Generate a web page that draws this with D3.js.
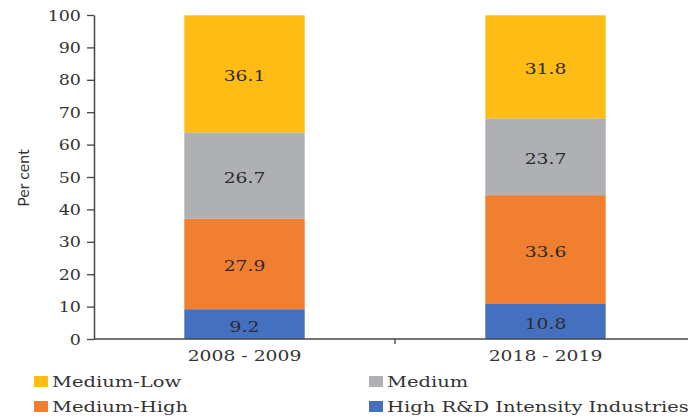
<!DOCTYPE html>
<html>
<head>
<meta charset="utf-8">
<script src="https://cdn.jsdelivr.net/npm/d3@7"></script>
<style>
  html, body { margin: 0; padding: 0; background: #fff; }
  svg { display: block; }
</style>
</head>
<body>
<svg id="chart" width="688" height="419"></svg>
<script>
// Share of manufacturing output by R&D intensity, two periods
const periods = ["2008 - 2009", "2018 - 2019"];
const seriesNames = ["High R&D Intensity Industries", "Medium-High", "Medium", "Medium-Low"];
const highValues = [9.2, 10.8];
const mediumHighValues = [27.9, 33.6];
const mediumValues = [26.7, 23.7];
const mediumLowValues = [36.1, 31.8];
const yTicks = [0, 10, 20, 30, 40, 50, 60, 70, 80, 90, 100];
const colors = ["#4570BF", "#F07F30", "#AFB0B4", "#FEBC15"];

const W = 688, H = 419;
const plotLeft = 94, plotRight = 696, plotTop = 15, plotBottom = 339;
const serif = "'DejaVu Serif', serif";

const svg = d3.select("#chart");

const rows = periods.map((p, i) => ({
  period: p,
  [seriesNames[0]]: highValues[i],
  [seriesNames[1]]: mediumHighValues[i],
  [seriesNames[2]]: mediumValues[i],
  [seriesNames[3]]: mediumLowValues[i]
}));
const stacked = d3.stack().keys(seriesNames)(rows);

const x = d3.scaleBand().domain(periods).range([plotLeft, plotRight])
  .paddingInner(0.6).paddingOuter(0.3);
const y = d3.scaleLinear().domain([0, 100]).range([plotBottom, plotTop]);

// wide text helper: places text and widens it horizontally
function wideText(g, tx, ty, str, size, anchor, fill, stretch) {
  return g.append("text")
    .attr("transform", `translate(${tx},${ty}) scale(${stretch || 1.25},1)`)
    .attr("text-anchor", anchor)
    .attr("font-family", serif)
    .attr("font-size", size)
    .attr("fill", fill || "#333")
    .text(str);
}

// stacked bars
const layers = svg.append("g").selectAll("g").data(stacked).join("g")
  .attr("fill", (d, i) => colors[i]);
layers.selectAll("rect").data(d => d).join("rect")
  .attr("x", d => x(d.data.period))
  .attr("width", x.bandwidth())
  .attr("y", d => y(d[1]))
  .attr("height", d => y(d[0]) - y(d[1]));

// value labels
const labels = svg.append("g");
stacked.forEach(layer => {
  layer.forEach(d => {
    const v = d[1] - d[0];
    const cx = x(d.data.period) + x.bandwidth() / 2;
    const cy = (y(d[0]) + y(d[1])) / 2 + 7.5;
    wideText(labels, cx, cy, v.toFixed(1), 15, "middle", "#2b2b2b");
  });
});

// y axis
const yAxis = svg.append("g").attr("transform", `translate(${plotLeft},0)`)
  .call(d3.axisLeft(y).tickValues(yTicks).tickSize(7).tickSizeOuter(0).tickFormat(d3.format("d")));
yAxis.select(".domain").attr("stroke", "#444").attr("stroke-width", 1.5);
yAxis.selectAll(".tick line").attr("stroke", "#444").attr("stroke-width", 1.3);
yAxis.selectAll(".tick text").remove();
yAxis.selectAll(".tick").each(function (d) {
  wideText(d3.select(this), -13, 5, d, 14, "end", "#333");
});

// x axis with ticks on band boundaries
const xAxisG = svg.append("g").attr("transform", `translate(0,${plotBottom})`);
xAxisG.append("line").attr("x1", plotLeft).attr("x2", W)
  .attr("stroke", "#444").attr("stroke-width", 1.5);
const boundaries = periods.slice(1).map(p => x(p) - x.step() * x.paddingInner() / 2);
xAxisG.selectAll("line.tk").data(boundaries).join("line").attr("class", "tk")
  .attr("x1", d => d).attr("x2", d => d).attr("y1", 0).attr("y2", 5)
  .attr("stroke", "#444").attr("stroke-width", 1.3);
periods.forEach(p => {
  wideText(xAxisG, x(p) + x.bandwidth() / 2, 22, p, 15, "middle", "#333");
});

// y axis title
svg.append("text")
  .attr("transform", `translate(29,178) rotate(-90)`)
  .attr("text-anchor", "middle")
  .attr("font-family", "Lato, sans-serif")
  .attr("font-size", 16)
  .attr("fill", "#333")
  .text("Per cent");

// legend (two columns, two rows)
const legendItems = [
  { name: "Medium-Low", color: colors[3], x: 34, y: 381 },
  { name: "Medium", color: colors[2], x: 369, y: 381 },
  { name: "Medium-High", color: colors[1], x: 34, y: 406 },
  { name: "High R&D Intensity Industries", color: colors[0], x: 369, y: 406 }
];
const legend = svg.append("g");
legendItems.forEach(it => {
  legend.append("rect").attr("x", it.x).attr("y", it.y - 5)
    .attr("width", 14).attr("height", 11).attr("fill", it.color);
  wideText(legend, it.x + 18, it.y + 6, it.name, 15, "start", "#333", 1.3);
});
</script>
</body>
</html>
